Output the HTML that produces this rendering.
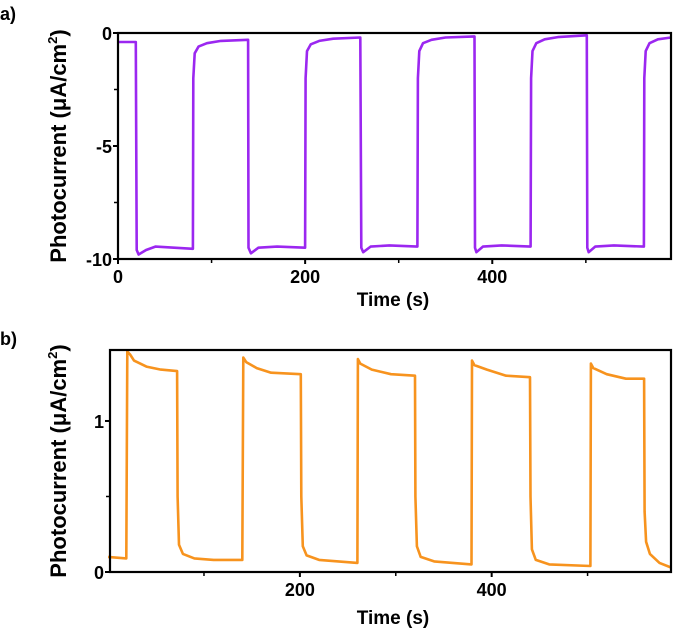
<!DOCTYPE html>
<html><head><meta charset="utf-8"><style>
html,body{margin:0;padding:0;background:#fff;}
svg text{font-family:"Liberation Sans",Arial,sans-serif;font-weight:bold;fill:#000;}
</style></head><body>
<svg id="fig" width="674" height="634" xmlns="http://www.w3.org/2000/svg">
<text x="0" y="20" font-size="18">a)</text>
<text x="0" y="345" font-size="18">b)</text>
<g id="pa"></g>
<g id="pb"></g>
</svg>
<script>
// Panel a data
const aTimes = [0,19,20,22,30,40,60,80,80.5,82,86,95,110,139,139.5,142,150,170,200,200.5,202,206,215,230,259,260,262,270,290,320,320.5,322,326,335,350,381,381.5,383,390,410,441,441.5,443,447,456,470,501,501.5,503,510,530,562,562.5,564,568,577,591];
const aValues = [-0.4,-0.4,-9.6,-9.8,-9.6,-9.45,-9.5,-9.55,-2,-0.9,-0.6,-0.45,-0.35,-0.3,-9.5,-9.75,-9.5,-9.45,-9.5,-2,-0.8,-0.5,-0.35,-0.25,-0.2,-9.5,-9.7,-9.45,-9.4,-9.45,-2,-0.8,-0.45,-0.3,-0.2,-0.15,-9.5,-9.7,-9.45,-9.4,-9.45,-2,-0.8,-0.45,-0.28,-0.18,-0.1,-9.5,-9.7,-9.45,-9.4,-9.45,-2,-0.8,-0.45,-0.28,-0.2];
const aXTicks = [0,200,400];
const aXMinor = [100,300,500];
const aYTicks = [0,-5,-10];
const aYMinor = [-2.5,-7.5];
// Panel b data
const bTimes = [0,19,20,23,27,40,55,72,72.5,74,78,90,110,140,141,144,155,170,201,201.5,203,207,220,260,260.5,263,275,295,320,320.5,322,326,340,379,379.5,382,395,415,440,440.5,442,446,460,503,503.5,506,520,540,559,559.5,561,565,575,587];
const bValues = [0.1,0.09,1.46,1.44,1.40,1.36,1.34,1.33,0.5,0.18,0.12,0.09,0.08,0.08,1.42,1.39,1.35,1.32,1.31,0.5,0.17,0.11,0.08,0.06,1.41,1.38,1.34,1.31,1.30,0.5,0.17,0.1,0.07,0.05,1.40,1.37,1.34,1.30,1.29,0.5,0.15,0.08,0.05,0.04,1.38,1.35,1.31,1.28,1.28,0.4,0.2,0.12,0.06,0.03];
const bXTicks = [200,400];
const bXMinor = [100,300,500];
const bYTicks = [0,1];
const bYMinor = [0.5];

const NS="http://www.w3.org/2000/svg";
function mk(parent,tag,attrs){const e=document.createElementNS(NS,tag);for(const k in attrs)e.setAttribute(k,attrs[k]);parent.appendChild(e);return e;}

function drawPanel(g,cfg){
  const {L,R,T,B,x0,x1,y0,y1,times,values,color,xt,xm,yt,ym,xtitleY,ytitleX}=cfg;
  const sx=v=>L+(v-x0)/(x1-x0)*(R-L);
  const sy=v=>B-(v-y0)/(y1-y0)*(B-T);
  let d="";
  for(let i=0;i<times.length;i++){d+=(i?"L":"M")+sx(times[i]).toFixed(1)+","+sy(values[i]).toFixed(1);}
  const line=mk(g,"path",{d:d,fill:"none",stroke:color,"stroke-width":2.6,"stroke-linejoin":"round"});
  
  
  const fr=mk(g,"rect",{x:L,y:T,width:R-L,height:B-T,fill:"none",stroke:"#000","stroke-width":2.2});
  
  
  xt.forEach(v=>{
    const x=sx(v);
    const t=mk(g,"line",{x1:x,y1:B,x2:x,y2:B+5,stroke:"#000","stroke-width":2});
    
    
    const l=mk(g,"text",{x:x,y:B+24,"font-size":18,"text-anchor":"middle"});
    l.textContent=v;
    
    
  });
  xm.forEach(v=>{
    const x=sx(v);
    const t=mk(g,"line",{x1:x,y1:B,x2:x,y2:B+4,stroke:"#000","stroke-width":1.5});
    
    
  });
  yt.forEach(v=>{
    const y=sy(v);
    const t=mk(g,"line",{x1:L-5,y1:y,x2:L,y2:y,stroke:"#000","stroke-width":2});
    
    
    const l=mk(g,"text",{x:L-6,y:y+7,"font-size":18,"text-anchor":"end"});
    l.textContent=v;
    
    
  });
  ym.forEach(v=>{
    const y=sy(v);
    const t=mk(g,"line",{x1:L-4,y1:y,x2:L,y2:y,stroke:"#000","stroke-width":1.5});
    
    
  });
  const xtl=mk(g,"text",{x:393,y:xtitleY,"font-size":19,"text-anchor":"middle"});
  xtl.textContent="Time (s)";
  
  
  const cy=(T+B)/2;
  const ytl=mk(g,"text",{x:0,y:0,"font-size":22,"text-anchor":"middle",transform:`translate(${ytitleX},${cy}) rotate(-90)`});
  ytl.innerHTML='Photocurrent (μA/cm<tspan dy="-9" font-size="13">2</tspan><tspan dy="9">)</tspan>';
  
  
}
drawPanel(document.getElementById('pa'),{L:118,R:671,T:33,B:259,x0:0,x1:591,y0:-10,y1:0,times:aTimes,values:aValues,color:"#9b27f0",xt:aXTicks,xm:aXMinor,yt:aYTicks,ym:aYMinor,xtitleY:306,ytitleX:66});
drawPanel(document.getElementById('pb'),{L:110,R:671,T:350,B:572,x0:2,x1:587,y0:0,y1:1.47,times:bTimes,values:bValues,color:"#f7931e",xt:bXTicks,xm:bXMinor,yt:bYTicks,ym:bYMinor,xtitleY:624,ytitleX:66});
</script>
</body></html>
